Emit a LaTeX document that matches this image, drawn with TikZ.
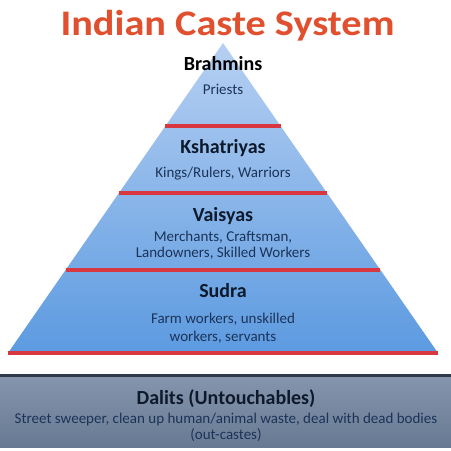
\documentclass[tikz,border=0pt]{standalone}
\usepackage{fontspec}
\setmainfont{Carlito}
\usepackage{tikz}
\usetikzlibrary{calc}
\definecolor{titlec}{HTML}{E0502F}
\definecolor{bandc}{HTML}{D8373F}
\definecolor{skytop}{HTML}{B6D0F2}
\definecolor{skybot}{HTML}{5C9AE0}
\definecolor{navyc}{HTML}{1C3358}
\definecolor{headc}{HTML}{0E1A2C}
\definecolor{slatetop}{HTML}{8595AD}
\definecolor{slatebot}{HTML}{687A93}
\definecolor{slateedge}{HTML}{2E3A49}
\tikzset{
  band/.style={line width=4pt,bandc},
  head/.style={anchor=base,font=\bfseries\fontsize{20}{22}\selectfont,text=headc,inner sep=0pt},
  desc/.style={anchor=base,font=\fontsize{15}{17}\selectfont,text=navyc,inner sep=0pt}
}
\begin{document}
\begin{tikzpicture}[x=1pt,y=-1pt]
\useasboundingbox[fill=white] (0,0) rectangle (451,451);
% title
\node[anchor=base,font=\bfseries\fontsize{36}{40}\selectfont,text=titlec,inner sep=0pt] (title) at (227.5,35) {\scalebox{1.12}[1]{Indian Caste System}};
% pyramid
\coordinate (apex) at (223,43);
\coordinate (bl) at (8,353);
\coordinate (br) at (438,353);
\shade[top color=skytop,bottom color=skybot] (apex) -- (br) -- (bl) -- cycle;
\foreach \yy in {126,193,270}{
 \draw[band] ({223-0.6935*(\yy-43)},\yy) -- ({223+0.6935*(\yy-43)},\yy);}
\draw[band] (bl) -- (br);
% outcastes
\shade[top color=slatetop,bottom color=slatebot] (0,374) rectangle (451,447);
\draw[line width=3pt,slateedge] (0,375) -- (451,375);
% labels
\node[head,text=black] (brahmins) at (223,70) {Brahmins};
\node[desc] (priests) at (223,94) {Priests};
\node[head] (kshatriyas) at (223,153) {Kshatriyas};
\node[desc] (kings) at (223,177) {Kings/Rulers, Warriors};
\node[head] (vaisyas) at (223,221) {Vaisyas};
\node[desc] (merchants) at (223,241) {Merchants, Craftsman,};
\node[desc] (landowners) at (223,257) {Landowners, Skilled Workers};
\node[head] (sudra) at (223,297) {Sudra};
\node[desc] (farm) at (223,323) {Farm workers, unskilled};
\node[desc] (servants) at (223,341) {workers, servants};
\node[head] (dalits) at (226,404) {Dalits (Untouchables)};
\node[desc] (sweeper) at (226,423) {Street sweeper, clean up human/animal waste, deal with dead bodies};
\node[desc] (outcastes) at (226,439) {(out-castes)};
\end{tikzpicture}
\end{document}
